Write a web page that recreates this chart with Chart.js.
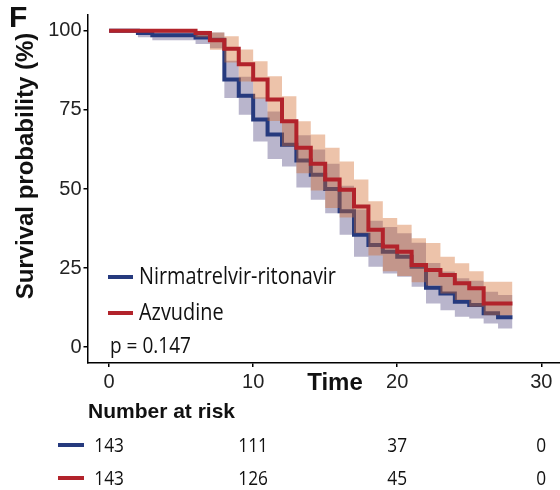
<!DOCTYPE html>
<html lang="en">
<head>
<meta charset="UTF-8">
<title>Survival curves</title>
<style>
  html, body { margin: 0; padding: 0; background: #fff; }
  #wrap { width: 560px; height: 490px; }
</style>
</head>
<body>
<div id="wrap"><canvas id="km"></canvas></div>
<script src="https://cdn.jsdelivr.net/npm/chart.js"></script>
<script>
// Nirmatrelvir-ritonavir (step starts)
const blueTime  = [0, 2, 3, 6, 7, 8, 9, 10, 11, 12, 13, 14, 15, 16, 17, 18, 19, 20, 21, 22, 23, 24, 25, 26, 27, 28];
const blueSurv  = [100, 99.3, 98.6, 97.9, 97.2, 84.6, 79.5, 72, 67.2, 64, 59, 54.5, 50, 43, 35.5, 32.3, 30.2, 28.6, 25.4, 18.8, 17, 14.4, 13.3, 10.7, 9.5, 9.5];
const blueLower = [100, 98, 97, 95.8, 94.5, 78.8, 73.5, 65, 59.5, 57.1, 50.5, 46.6, 42.3, 35.5, 28.6, 25.4, 23.3, 22.3, 19.1, 13.8, 11.7, 9.6, 9.1, 7.5, 5.9, 5.9];
const blueUpper = [100, 100, 100, 99.8, 99.5, 90.5, 85.5, 79, 74.5, 71, 67, 62.5, 58, 51, 43.5, 40, 38, 36, 33, 26.6, 23.9, 21.8, 21, 17.5, 16.5, 16.5];

// Azvudine
const redTime  = [0, 6, 7, 8, 9, 10, 11, 12, 13, 14, 15, 16, 17, 18, 19, 20, 21, 22, 23, 24, 25, 26, 28];
const redSurv  = [100, 99.3, 97, 94.3, 89.4, 84.6, 78.3, 71.4, 63, 58, 53, 49.8, 44.5, 37.1, 31.8, 30.2, 26, 24.4, 22.8, 20.2, 18.6, 13.8, 13.8];
const redUpper = [100, 100, 99.5, 98.3, 94.1, 90.4, 85.6, 79.3, 71.4, 67.2, 63, 58.7, 53, 46.1, 40.8, 38.7, 34.4, 32.9, 28.6, 26.5, 24, 20.7, 20.7];
const redLower = [100, 98, 94, 90, 84, 78.5, 71.5, 63.5, 55, 49.5, 44, 41, 36, 29, 24, 22.5, 20.5, 19.5, 17, 14.9, 12.8, 10.1, 10.1];

const xTicks = [0, 10, 20, 30];
const yTicks = [0, 25, 50, 75, 100];

const groups = ['Nirmatrelvir-ritonavir', 'Azvudine'];
const riskTimes = [0, 10, 20, 30];
const blueRisk = [143, 111, 37, 0];
const redRisk  = [143, 126, 45, 0];
const pText = 'p = 0.147';

const BLUE = '#263a7e';
const RED = '#b2232b';
const BLUE_BAND = 'rgba(70,60,120,0.38)';
const RED_BAND = 'rgba(210,105,43,0.4)';

function pts(t, v) { return t.map((x, i) => ({ x: x, y: v[i] })); }

// horizontal first, then drop (KM style)
function stepSet(t, v, extra) {
    return Object.assign({
        data: pts(t, v),
        stepped: 'before',
        pointRadius: 0,
        borderWidth: 0,
        fill: false
    }, extra);
}

const serif = '"Liberation Sans", Arial, sans-serif';
const open = '"Open Sans", sans-serif';
let squeeze = 1;

function condensed(ctx, text, x, y, size, align) {
    ctx.save();
    ctx.font = size + 'px ' + open;
    ctx.textBaseline = 'middle';
    const w = ctx.measureText(text).width * squeeze;
    let left = x;
    if (align === 'center') left = x - w / 2;
    ctx.translate(left, y);
    ctx.scale(squeeze, 1);
    ctx.textAlign = 'left';
    ctx.fillText(text, 0, 0);
    ctx.restore();
}

const extras = {
    id: 'extras',
    afterDraw(chart) {
        const ctx = chart.ctx;
        const xs = chart.scales.x;
        ctx.save();
        ctx.fillStyle = '#111';

        // figure letter
        ctx.font = 'bold 30px ' + serif;
        ctx.textBaseline = 'alphabetic';
        ctx.fillText('F', 9, 27);

        // y title
        ctx.save();
        ctx.translate(33, 166);
        ctx.rotate(-Math.PI / 2);
        ctx.font = 'bold 24px ' + serif;
        ctx.textAlign = 'center';
        ctx.textBaseline = 'alphabetic';
        ctx.fillText('Survival probability (%)', 0, 0);
        ctx.restore();

        // x title
        ctx.font = 'bold 24px ' + serif;
        ctx.textAlign = 'center';
        ctx.textBaseline = 'middle';
        ctx.fillText('Time', 335, 383);

        // condense factor from the legend label width
        ctx.font = '23px ' + open;
        squeeze = 197 / ctx.measureText(groups[0]).width;

        // legend
        const legY = [277, 313];
        [BLUE, RED].forEach((c, i) => {
            ctx.strokeStyle = c;
            ctx.lineWidth = 4;
            ctx.beginPath();
            ctx.moveTo(108, legY[i]);
            ctx.lineTo(133, legY[i]);
            ctx.stroke();
            condensed(ctx, groups[i], 139, legY[i], 23, 'left');
        });
        condensed(ctx, pText, 110, 347, 22, 'left');

        // risk table
        ctx.font = 'bold 21px ' + serif;
        ctx.textAlign = 'left';
        ctx.textBaseline = 'middle';
        ctx.fillText('Number at risk', 88, 412);
        const rowY = [446, 479];
        [[blueRisk, BLUE], [redRisk, RED]].forEach((r, i) => {
            ctx.strokeStyle = r[1];
            ctx.lineWidth = 4;
            ctx.beginPath();
            ctx.moveTo(58, rowY[i] - 1);
            ctx.lineTo(84, rowY[i] - 1);
            ctx.stroke();
            r[0].forEach((n, j) => {
                condensed(ctx, String(n), xs.getPixelForValue(riskTimes[j]), rowY[i], 20, 'center');
            });
        });
        ctx.restore();
    }
};

new Chart(document.getElementById('km'), {
    type: 'line',
    data: {
        datasets: [
            stepSet(blueTime, blueUpper, { fill: '+1', backgroundColor: BLUE_BAND, order: 4 }),
            stepSet(blueTime, blueLower, { order: 4 }),
            stepSet(blueTime, blueSurv, { borderColor: BLUE, borderWidth: 4, order: 3 }),
            stepSet(redTime, redUpper, { fill: '+1', backgroundColor: RED_BAND, order: 2 }),
            stepSet(redTime, redLower, { order: 2 }),
            stepSet(redTime, redSurv, { borderColor: RED, borderWidth: 4, order: 1 })
        ]
    },
    options: {
        responsive: true,
        maintainAspectRatio: false,
        animation: false,
        layout: { padding: { top: 15, right: 0, left: 0, bottom: 0 } },
        plugins: { legend: { display: false }, tooltip: { enabled: false } },
        scales: {
            x: {
                type: 'linear',
                min: -1.5,
                max: 31.3,
                afterBuildTicks: s => { s.ticks = xTicks.map(v => ({ value: v })); },
                afterFit: s => { s.height = 127; },
                grid: { drawOnChartArea: false, drawTicks: true, tickLength: 4, color: '#000', lineWidth: 1.5 },
                border: { display: true, color: '#000', width: 1.5 },
                ticks: { color: '#222', padding: 3, maxRotation: 0, font: { family: serif, size: 20 } }
            },
            y: {
                min: -5,
                max: 105,
                afterBuildTicks: s => { s.ticks = yTicks.map(v => ({ value: v })); },
                afterFit: s => { s.width = 87.5; },
                grid: { drawOnChartArea: false, drawTicks: true, tickLength: 4, color: '#000', lineWidth: 1.5 },
                border: { display: true, color: '#000', width: 1.5 },
                ticks: { color: '#222', padding: 2, font: { family: serif, size: 20 } }
            }
        }
    },
    plugins: [extras]
});
</script>
</body>
</html>
